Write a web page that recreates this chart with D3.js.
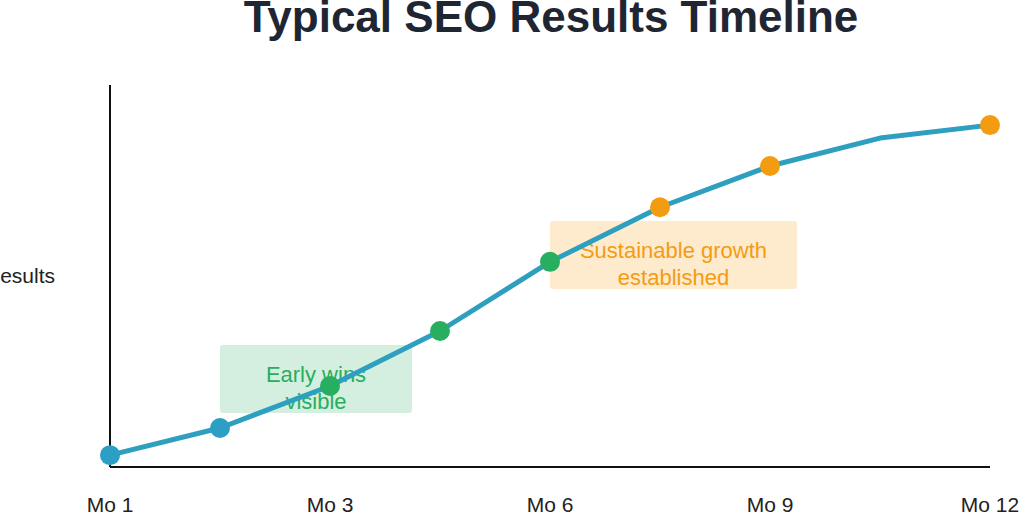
<!DOCTYPE html><html><head><meta charset="utf-8">
<script src="https://cdn.jsdelivr.net/npm/d3@7"></script>
<style>body{margin:0;background:#fff}</style></head><body>
<svg id="c" width="1024" height="514"></svg>
<script>
const months=["Mo 1","Mo 2","Mo 3","Mo 4","Mo 6","Mo 7","Mo 9","Mo 10","Mo 12"];
const tickLabels=["Mo 1","Mo 3","Mo 6","Mo 9","Mo 12"];
const values=[3.1,10.2,21.2,35.6,53.7,68,78.8,86.1,89.5];
const markerColors=["#2e9fc4","#2e9fc4","#27ae60","#27ae60","#27ae60","#f39c12","#f39c12",null,"#f39c12"];
const F="'Liberation Sans', Arial, sans-serif";
const svg=d3.select("#c");
const x=d3.scaleLinear().domain([0,8]).range([110,990]);
const y=d3.scaleLinear().domain([0,100]).range([467,85]);
svg.append("text").attr("x",551).attr("y",32).attr("text-anchor","middle").attr("font-family",F).attr("font-weight","bold").attr("font-size",44).attr("fill","#1f2633").text("Typical SEO Results Timeline");
svg.append("line").attr("x1",110).attr("x2",110).attr("y1",85).attr("y2",467).attr("stroke","#111").attr("stroke-width",2);
svg.append("line").attr("x1",110).attr("x2",990).attr("y1",467).attr("y2",467).attr("stroke","#111").attr("stroke-width",2);
svg.append("text").attr("x",55).attr("y",283).attr("text-anchor","end").attr("font-family",F).attr("font-size",21).attr("fill","#222").text("Results");
[0,2,4,6,8].forEach((i,k)=>svg.append("text").attr("x",x(i)).attr("y",512).attr("text-anchor","middle").attr("font-family",F).attr("font-size",21).attr("fill","#222").text(tickLabels[k]));
function box(x0,x1,y0,y1,fill,col,lines){
 svg.append("rect").attr("x",x0).attr("y",y0).attr("width",x1-x0).attr("height",y1-y0).attr("rx",3).attr("fill",fill);
 lines.forEach((t,i)=>svg.append("text").attr("x",(x0+x1)/2).attr("y",y0+37+i*27).attr("text-anchor","middle").attr("font-family",F).attr("font-size",22).attr("fill",col).text(t));
}
box(220,412,345,413,"rgba(39,174,96,0.2)","#27ae60",["Early wins","visible"]);
box(550,797,221,289,"rgba(253,203,130,0.4)","#f39c12",["Sustainable growth","established"]);
const line=d3.line().x((d,i)=>x(i)).y(d=>y(d));
svg.append("path").attr("d",line(values)).attr("fill","none").attr("stroke","#2e9fbf").attr("stroke-width",5).attr("stroke-linejoin","round");
svg.selectAll("circle").data(values.map((v,i)=>({v,i})).filter(d=>markerColors[d.i])).enter().append("circle")
 .attr("cx",d=>x(d.i)).attr("cy",d=>y(d.v)).attr("r",10).attr("fill",d=>markerColors[d.i]);
</script></body></html>
